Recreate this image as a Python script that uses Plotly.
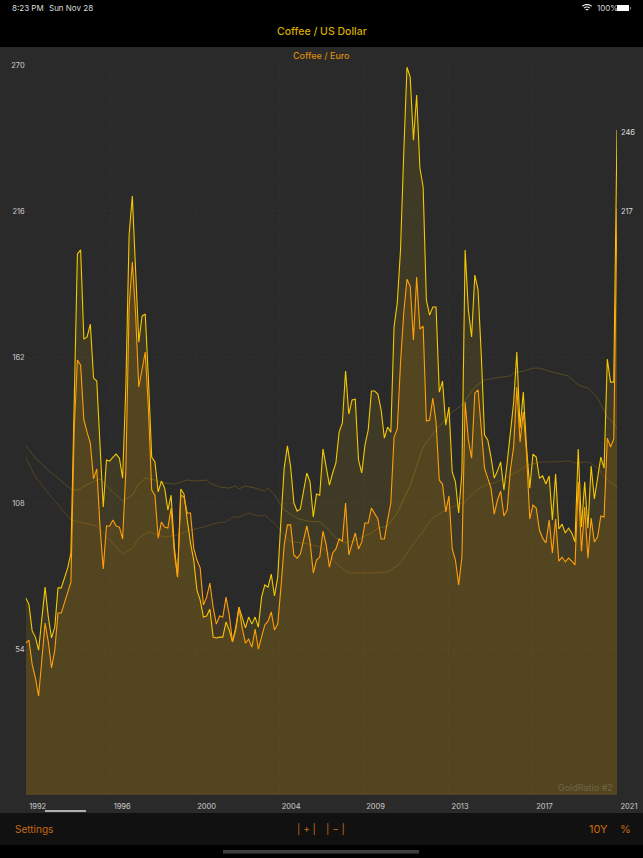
import numpy as np
import plotly.graph_objects as go

W, H = 643, 858

coffee_usd = [
    72.9, 70.6, 60.7, 58.4, 53.6, 64.7, 76.9, 65.8, 58.1, 62.1, 76.6, 76.6, 80.6, 84.0, 89.5, 140.5,
    200.1, 201.6, 168.6, 169.4, 174.2, 154.2, 153.1, 129.4, 106.5, 123.9, 123.5, 125.0, 126.1, 124.6, 117.2, 151.3,
    207.1, 221.5, 194.5, 167.5, 177.1, 177.9, 153.5, 125.0, 123.2, 112.1, 116.1, 113.5, 105.4, 110.9, 91.7, 80.6,
    113.2, 111.3, 101.7, 93.2, 86.9, 75.8, 72.1, 65.8, 66.2, 68.8, 58.4, 58.1, 58.4, 58.4, 64.0, 61.0,
    56.6, 61.0, 69.5, 65.5, 61.8, 65.8, 63.2, 65.8, 62.1, 73.2, 77.7, 76.9, 81.7, 73.6, 80.6, 101.7,
    120.9, 129.1, 121.3, 108.0, 105.0, 105.8, 112.4, 119.1, 115.8, 102.8, 111.3, 110.9, 128.0, 122.0, 114.6, 119.1,
    122.8, 134.2, 137.6, 156.8, 140.9, 146.1, 146.4, 123.9, 119.1, 129.4, 135.0, 149.4, 149.4, 148.3, 142.4, 132.0,
    136.1, 134.2, 173.1, 182.0, 201.6, 237.4, 269.2, 265.5, 242.2, 258.9, 231.9, 224.9, 183.1, 177.5, 180.5, 180.5,
    149.0, 153.1, 136.8, 143.5, 119.5, 115.8, 104.3, 119.1, 201.6, 179.4, 169.4, 192.3, 186.8, 162.7, 133.1, 131.3,
    125.0, 117.2, 119.8, 123.2, 112.8, 122.8, 135.0, 145.0, 163.8, 135.7, 149.0, 128.7, 113.5, 126.1, 125.0, 117.2,
    118.0, 115.0, 118.0, 101.7, 118.7, 98.4, 100.2, 96.9, 98.7, 96.9, 93.6, 128.0, 99.1, 115.8, 98.7, 121.7,
    109.5, 116.5, 125.0, 120.9, 161.2, 152.7, 152.7, 246.0,
]

coffee_eur = [
    56.2, 57.3, 48.4, 43.3, 36.6, 49.9, 63.6, 56.6, 47.0, 53.6, 67.3, 67.3, 71.0, 74.7, 78.8, 135.0,
    160.9, 159.0, 138.7, 134.2, 130.2, 116.9, 120.6, 99.1, 83.6, 99.5, 99.5, 101.7, 99.5, 99.1, 94.7, 120.2,
    180.5, 197.1, 178.3, 150.9, 157.2, 163.8, 142.4, 112.8, 110.9, 95.0, 101.0, 99.1, 98.7, 106.1, 89.5, 80.6,
    110.9, 110.2, 104.3, 104.3, 91.3, 86.9, 84.0, 70.3, 73.2, 78.4, 69.5, 63.2, 66.2, 65.8, 73.2, 66.6,
    56.6, 62.1, 69.5, 61.8, 56.2, 57.7, 54.7, 61.4, 54.0, 58.4, 62.9, 64.3, 67.7, 61.0, 63.2, 76.9,
    92.5, 99.9, 99.9, 88.8, 87.6, 89.1, 94.3, 99.5, 93.6, 82.1, 86.9, 88.0, 97.6, 92.5, 84.3, 89.5,
    91.0, 94.7, 93.9, 108.0, 88.8, 92.8, 96.9, 91.0, 93.6, 100.6, 100.6, 106.1, 104.3, 102.1, 94.7, 94.7,
    101.7, 108.0, 132.4, 135.4, 159.8, 178.3, 190.8, 188.2, 168.3, 191.6, 172.3, 173.4, 138.3, 138.7, 146.8, 137.9,
    116.5, 115.0, 104.7, 110.6, 91.0, 86.9, 77.7, 88.0, 145.3, 131.3, 124.6, 148.7, 149.8, 136.8, 120.9, 117.2,
    113.5, 103.9, 109.1, 112.4, 103.2, 105.4, 120.2, 128.7, 150.9, 130.5, 141.6, 126.5, 102.1, 107.2, 106.1, 98.0,
    95.0, 93.2, 101.7, 89.5, 102.1, 86.5, 88.0, 86.2, 87.6, 86.5, 85.1, 115.8, 90.2, 106.5, 87.6, 102.4,
    93.6, 95.4, 103.2, 102.8, 132.0, 128.7, 131.7, 217.0,
]

ma_usd_at = [0, 3, 8, 14, 16, 20, 23, 25, 28, 30, 33, 35, 37, 40, 43, 46, 50, 53, 56, 57, 60, 63, 65, 66, 68, 71, 74,
             75, 77, 80, 82, 84, 87, 91, 93, 96, 99, 103, 107, 109, 112, 115, 119, 123, 127, 129, 132, 135, 139, 142,
             145, 150, 151, 154, 157, 159, 163, 168, 171, 174, 177, 180, 182, 183]
ma_usd = [129.4, 124.6, 119.1, 113.2, 112.8, 115.4, 116.9, 114.3, 110.9, 108.7, 110.9, 115.0, 117.2, 116.5, 115.4, 115.0,
          116.5, 116.1, 116.5, 115.4, 113.9, 113.5, 114.3, 113.2, 114.3, 113.5, 112.4, 113.5, 110.9, 105.4, 103.9, 102.4,
          101.3, 101.0, 99.1, 95.0, 93.2, 94.7, 96.9, 98.7, 99.5, 104.3, 114.6, 128.7, 135.0, 137.6, 141.6, 144.2, 150.9,
          153.5, 154.2, 155.0, 156.1, 156.8, 157.9, 157.9, 156.4, 155.0, 151.6, 150.5, 146.8, 139.8, 137.6, 135.7]

ma_eur_at = [0, 3, 8, 14, 18, 22, 26, 30, 33, 35, 38, 43, 47, 51, 55, 57, 59, 62, 64, 66, 69, 71, 73, 74, 77, 80, 82,
             86, 90, 93, 96, 100, 103, 107, 112, 116, 119, 126, 129, 132, 136, 139, 142, 145, 149, 153, 155, 160, 164,
             168, 170, 174, 177, 180, 182, 183]
ma_eur = [125.0, 117.6, 110.2, 101.7, 100.6, 99.5, 94.3, 89.1, 91.3, 95.0, 97.3, 95.4, 96.2, 98.0, 99.1, 99.9, 100.6,
          101.0, 102.8, 102.8, 104.3, 103.5, 103.2, 103.5, 100.6, 96.2, 93.6, 93.2, 92.1, 90.6, 85.8, 82.1, 82.1, 82.1,
          82.5, 85.8, 91.3, 102.5, 104.7, 106.5, 108.4, 112.1, 114.6, 115.4, 117.6, 120.2, 122.0, 123.2, 123.2, 123.6,
          122.8, 123.2, 121.0, 116.5, 115.0, 113.5]

year_labels = ["1992", "1996", "2000", "2004", "2009", "2013", "2017", "2021"]
y_ticks = [54, 108, 162, 216, 270]

FONT = "Inter, Roboto, sans-serif"
YELLOW = "#f5c800"
ORANGE = "#ff9f0a"
GRID = "#303030"
ACCENT = "#c96a10"


def px(x):
    return x / W


def py(y):
    return 1 - y / H


xs = list(range(len(coffee_usd)))
fig = go.Figure()
fig.add_trace(go.Scatter(x=xs, y=coffee_usd, mode="lines", fill="tozeroy",
                         fillcolor="rgba(255,204,0,0.10)",
                         line=dict(color=YELLOW, width=1.1), hoverinfo="skip"))
fig.add_trace(go.Scatter(x=xs, y=coffee_eur, mode="lines", fill="tozeroy",
                         fillcolor="rgba(255,159,10,0.115)",
                         line=dict(color=ORANGE, width=1.1), hoverinfo="skip"))
fig.add_trace(go.Scatter(x=ma_usd_at, y=ma_usd, mode="lines",
                         line=dict(color="rgba(255,204,0,0.25)", width=0.8), hoverinfo="skip"))
fig.add_trace(go.Scatter(x=ma_eur_at, y=ma_eur, mode="lines",
                         line=dict(color="rgba(255,159,10,0.25)", width=0.8), hoverinfo="skip"))


def rect(x0, y0, x1, y1, color):
    return dict(type="rect", xref="paper", yref="paper", layer="below",
                x0=px(x0), x1=px(x1), y0=py(y1), y1=py(y0),
                fillcolor=color, line=dict(width=0))


def wifi_arc(cx, cy, r, color):
    pts = []
    for a in np.linspace(np.pi * 0.27, np.pi * 0.73, 9):
        pts.append((px(cx + r * np.cos(a)), py(cy - r * np.sin(a))))
    path = "M " + " L ".join(f"{x:.5f} {y:.5f}" for x, y in pts)
    return dict(type="path", xref="paper", yref="paper", layer="below", path=path,
                line=dict(color=color, width=1.1))


shapes = [
    rect(0, 47, W, 813, "#2a2a2a"),
    rect(0, 813, W, 845, "#111111"),
    rect(45, 810, 86, 812, "#b0b0b0"),
    rect(223, 850, 419, 853.5, "#3e3e3e"),
    rect(617, 5, 629, 11, "#ffffff"),
    rect(630, 7, 631, 9.5, "#888888"),
    wifi_arc(587, 11.5, 7, "#eeeeee"),
    wifi_arc(587, 11.5, 4.5, "#eeeeee"),
    wifi_arc(587, 11.5, 2, "#eeeeee"),
]


def label(text, x, y, size, color, anchor="center", weight=400):
    return dict(text=text, xref="paper", yref="paper", x=px(x), y=py(y), showarrow=False,
                xanchor=anchor, yanchor="middle",
                font=dict(family=FONT, size=size, color=color, weight=weight))


annotations = [
    label("8:23 PM", 10, 8, 8, "#dddddd", "left"),
    label("Sun Nov 28", 47, 8, 8, "#dddddd", "left"),
    label("100%", 595, 8, 8, "#dddddd", "left"),
    label("Coffee / US Dollar", 321.5, 31, 10.5, "#d9ac00", weight=500),
    label("Coffee / Euro", 321.5, 55.5, 9, "#d98a0a", weight=500),
    label("GoldRatio #2", 585.5, 787, 9, "#6f6544"),
    label("Settings", 13, 829, 10, ACCENT, "left"),
    label("| + |", 306, 829, 10, ACCENT),
    label("| \u2212 |", 335, 829, 10, ACCENT),
    label("10Y", 598, 829, 11, ACCENT),
    label("%", 625, 829, 11, ACCENT),
    dict(text=str(int(coffee_usd[-1])), x=xs[-1], y=coffee_usd[-1], xref="x", yref="y", showarrow=False,
         xanchor="left", xshift=2, yshift=-3, font=dict(family=FONT, size=7.5, color="#dddddd")),
    dict(text=str(int(coffee_eur[-1])), x=xs[-1], y=coffee_eur[-1], xref="x", yref="y", showarrow=False,
         xanchor="left", xshift=2, yshift=-3, font=dict(family=FONT, size=7.5, color="#dddddd")),
]

fig.update_layout(
    width=W, height=H, margin=dict(l=0, r=0, t=0, b=0, autoexpand=False),
    paper_bgcolor="#000000", plot_bgcolor="rgba(0,0,0,0)",
    showlegend=False, shapes=shapes, annotations=annotations,
    xaxis=dict(domain=[px(25.7), px(617)], range=[0, xs[-1]], automargin=False,
               tickmode="array", tickvals=list(np.linspace(0, xs[-1], len(year_labels))), ticktext=year_labels,
               ticklabelshift=12, ticklen=0, ticklabelstandoff=5,
               tickfont=dict(family=FONT, size=7.5, color="#cccccc"),
               showgrid=True, gridcolor=GRID, griddash="dot", gridwidth=0.6, zeroline=False, showline=False),
    yaxis=dict(domain=[py(795), py(65)], range=[0, 270], automargin=False,
               tickmode="array", tickvals=y_ticks, ticktext=[str(v) for v in y_ticks],
               ticklen=0, tickfont=dict(family=FONT, size=7.5, color="#cccccc"),
               showgrid=True, gridcolor=GRID, griddash="dot", gridwidth=0.6, zeroline=False, showline=False),
)

fig.write_html("out.html", config={"displayModeBar": False},
               post_script="document.body.style.margin='0';document.body.style.background='#000';document.documentElement.style.overflow='hidden';")
